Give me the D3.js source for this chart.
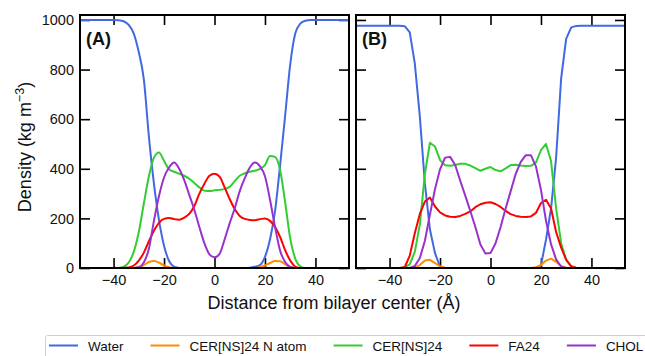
<!DOCTYPE html>
<html>
<head>
<meta charset="utf-8">
<script src="https://cdn.jsdelivr.net/npm/d3@7"></script>
<style>
  body { margin: 0; background: #fff; }
  svg { display: block; }
  text { font-family: "Liberation Sans", Arial, Helvetica, sans-serif; fill: #111; }
</style>
</head>
<body>
<svg id="chart" width="645" height="356"></svg>
<script>
// Distance from bilayer center (Å), 2 Å bins
const distance = [-54,-52,-50,-48,-46,-44,-42,-40,-38,-36,-34,-32,-30,-28,-26,-24,-22,-20,-18,-16,-14,-12,-10,-8,-6,-4,-2,0,
  2,4,6,8,10,12,14,16,18,20,22,24,26,28,30,32,34,36,38,40,42,44,46,48,50,52,54];

const seriesNames = ["Water", "CER[NS]24 N atom", "CER[NS]24", "FA24", "CHOL"];
const seriesColors = ["#4169e1", "#ff8c00", "#32cd32", "#ff0000", "#9932cc"];

// Panel (A) density profiles, kg m^-3
const waterA = [1000,1000,1000,1000,1000,1000,1000,1000,999,995,980,945,870,760,530,340,193,90,28,5,
  0,0,0,0,0,0,0,0,0,0,0,0,0,0,1,5,12,45,115,230,415,615,820,945,985,997,1000,1000,1000,1000,1000,1000,1000,1000,1000];
const nAtomA = [0,0,0,0,0,0,0,0,0,0,0,1,3,12,24,28,22,10,3,0,0,0,0,0,0,0,0,0,
  0,0,0,0,0,0,0,0,3,10,20,28,27,15,4,1,0,0,0,0,0,0,0,0,0,0,0];
const cerA = [0,0,0,0,0,0,0,0,0,5,22,65,145,260,370,445,466,432,398,388,380,372,360,343,325,312,310,313,
  315,318,327,350,372,382,388,392,400,415,452,448,395,265,120,38,7,0,0,0,0,0,0,0,0,0,0];
const faA = [0,0,0,0,0,0,0,0,0,0,2,10,30,62,108,150,182,198,202,197,195,203,218,250,300,340,372,380,
  368,325,278,238,210,198,194,193,197,200,190,165,125,72,30,6,0,0,0,0,0,0,0,0,0,0,0];
const cholA = [0,0,0,0,0,0,0,0,0,0,0,0,3,22,78,190,290,365,405,425,400,354,295,235,165,100,55,43,
  57,115,180,240,310,362,405,425,410,370,275,165,70,24,4,0,0,0,0,0,0,0,0,0,0,0,0];

// Panel (B) density profiles, kg m^-3
const waterB = [977,977,977,977,977,977,977,977,977,977,975,950,825,610,340,155,60,5,0,0,0,0,0,0,0,0,0,0,
  0,0,0,0,0,0,0,0,0,10,115,240,445,765,925,970,976,977,977,977,977,977,977,977,977,977,977];
const nAtomB = [0,0,0,0,0,0,0,0,0,0,0,0,2,12,30,33,20,6,1,0,0,0,0,0,0,0,0,0,
  0,0,0,0,0,0,0,0,3,12,30,38,25,8,1,0,0,0,0,0,0,0,0,0,0,0,0];
const cerB = [0,0,0,0,0,0,0,0,0,0,3,15,65,175,380,505,490,435,414,412,415,420,420,413,403,392,400,407,
  395,390,402,415,416,413,411,412,425,475,500,430,240,100,33,8,0,0,0,0,0,0,0,0,0,0,0];
const faB = [0,0,0,0,0,0,0,0,0,0,3,50,140,218,268,284,248,224,212,207,206,210,218,228,245,257,263,265,
  258,246,230,217,210,207,206,208,222,262,275,240,145,82,33,6,0,0,0,0,0,0,0,0,0,0,0];
const cholB = [0,0,0,0,0,0,0,0,0,0,0,0,8,40,110,215,318,398,445,448,415,352,292,230,165,95,58,60,
  100,165,240,310,380,428,455,455,410,315,190,95,35,5,0,0,0,0,0,0,0,0,0,0,0,0,0];

const xTicks = [-40, -20, 0, 20, 40];
const yTicks = [0, 200, 400, 600, 800, 1000];
const xDomain = [-53.3, 53.3];
const yDomain = [0, 1020];

const svg = d3.select("#chart");

const plotTop = 15, plotBottom = 268, plotWidth = 269;
const panels = [
  { label: "(A)", left: 80,  series: [waterA, nAtomA, cerA, faA, cholA], curve: d3.curveMonotoneX, yLabels: true },
  { label: "(B)", left: 356, series: [waterB, nAtomB, cerB, faB, cholB], curve: d3.curveLinear,    yLabels: false }
];

const y = d3.scaleLinear().domain(yDomain).range([plotBottom, plotTop]);

panels.forEach((p, pi) => {
  const x = d3.scaleLinear().domain(xDomain).range([p.left, p.left + plotWidth]);
  const g = svg.append("g");

  const clipId = "clip" + pi;
  svg.append("clipPath").attr("id", clipId)
    .append("rect")
    .attr("x", p.left).attr("y", plotTop)
    .attr("width", plotWidth).attr("height", plotBottom - plotTop);

  // inward ticks on all four sides
  const styleAxis = sel => {
    sel.select(".domain").remove();
    sel.selectAll(".tick line").attr("stroke", "#000").attr("stroke-width", 1.6);
    sel.selectAll(".tick text").attr("font-size", "14.5px").attr("fill", "#111")
      .style("font-family", '"Liberation Sans", Arial, sans-serif');
  };

  g.append("g").attr("transform", `translate(0,${plotBottom})`)
    .call(d3.axisBottom(x).tickValues(xTicks).tickSize(-10).tickPadding(7))
    .call(styleAxis);
  g.append("g").attr("transform", `translate(0,${plotTop})`)
    .call(d3.axisTop(x).tickValues(xTicks).tickSize(-10).tickFormat(""))
    .call(styleAxis);
  g.append("g").attr("transform", `translate(${p.left},0)`)
    .call(d3.axisLeft(y).tickValues(yTicks).tickSize(-10).tickPadding(6)
      .tickFormat(p.yLabels ? d3.format("d") : ""))
    .call(styleAxis);
  g.append("g").attr("transform", `translate(${p.left + plotWidth},0)`)
    .call(d3.axisRight(y).tickValues(yTicks).tickSize(-10).tickFormat(""))
    .call(styleAxis);

  const line = d3.line()
    .x((d, i) => x(distance[i]))
    .y(d => y(d))
    .curve(p.curve);

  const lines = g.append("g").attr("clip-path", `url(#${clipId})`);
  p.series.forEach((values, si) => {
    lines.append("path")
      .datum(values)
      .attr("d", line)
      .attr("fill", "none")
      .attr("stroke", seriesColors[si])
      .attr("stroke-width", 2)
      .attr("stroke-linejoin", "round");
  });

  g.append("rect")
    .attr("x", p.left).attr("y", plotTop)
    .attr("width", plotWidth).attr("height", plotBottom - plotTop)
    .attr("fill", "none").attr("stroke", "#000").attr("stroke-width", 2);

  g.append("text")
    .attr("x", p.left + 6).attr("y", 45)
    .attr("font-size", "18px").attr("font-weight", "bold")
    .text(p.label);
});

// axis titles
svg.append("text")
  .attr("x", 334).attr("y", 309)
  .attr("text-anchor", "middle").attr("font-size", "18px")
  .text("Distance from bilayer center (Å)");

const yTitle = svg.append("text")
  .attr("transform", "translate(31,147) rotate(-90)")
  .attr("text-anchor", "middle").attr("font-size", "18px");
yTitle.append("tspan").text("Density (kg m");
yTitle.append("tspan").attr("font-size", "12.5px").attr("dy", -7).text("\u22123");
yTitle.append("tspan").attr("dy", 7).text(")");

// legend
const legend = svg.append("g");
legend.append("rect")
  .attr("x", 45.5).attr("y", 335.5).attr("width", 640).attr("height", 40).attr("rx", 2)
  .attr("fill", "#fff").attr("stroke", "#cfcfcf").attr("stroke-width", 1);
let cursor = 49;
seriesNames.forEach((name, i) => {
  legend.append("line")
    .attr("x1", cursor).attr("x2", cursor + 29)
    .attr("y1", 345.5).attr("y2", 345.5)
    .attr("stroke", seriesColors[i]).attr("stroke-width", 2);
  const t = legend.append("text")
    .attr("x", cursor + 39).attr("y", 351)
    .attr("font-size", "13.5px")
    .text(name);
  cursor = cursor + 39 + t.node().getComputedTextLength() + 27;
});
</script>
</body>
</html>
